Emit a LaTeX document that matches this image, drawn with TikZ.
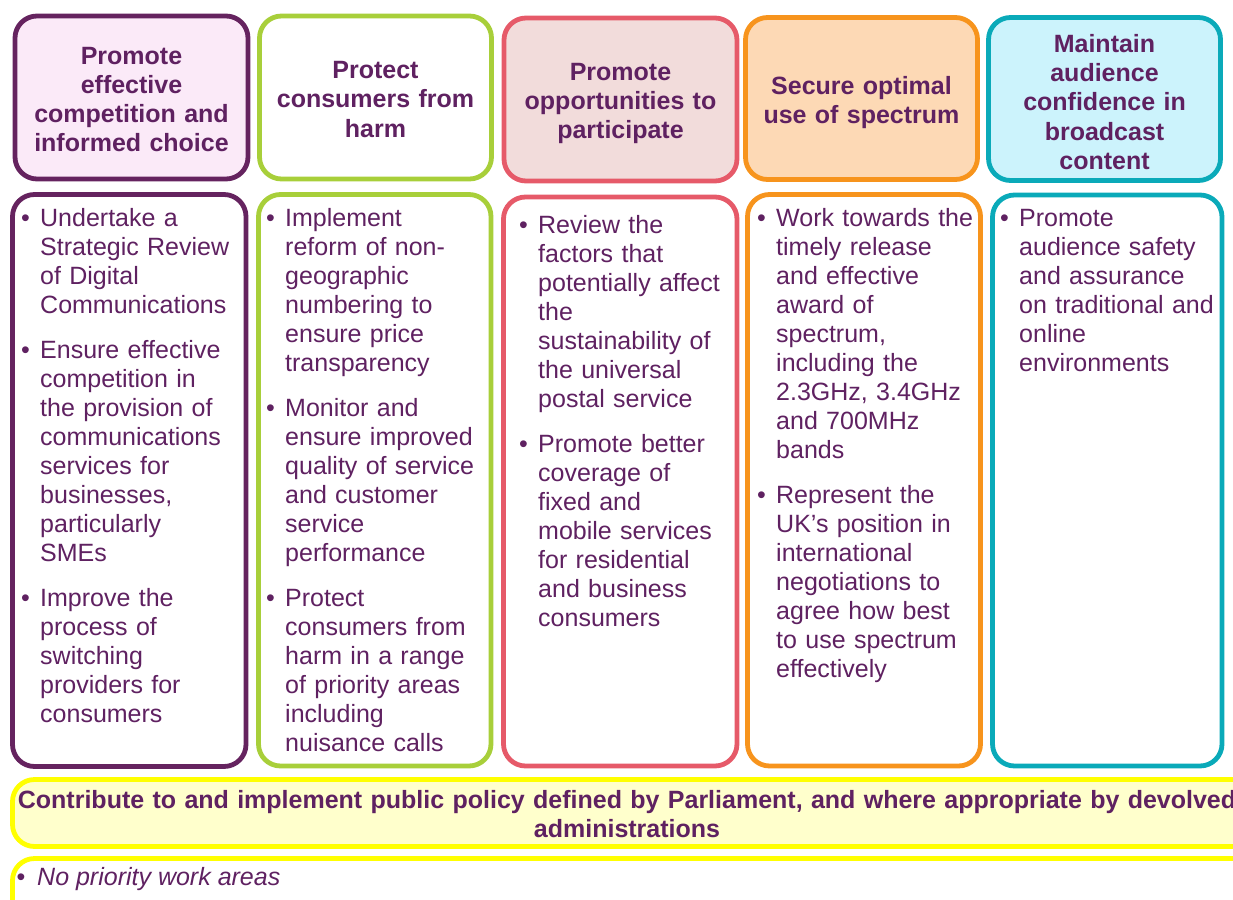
\documentclass[tikz,border=0pt]{standalone}
\usepackage{fontspec}
\setmainfont{Liberation Sans}
\definecolor{txt}{HTML}{5F2161}
\definecolor{cpurple}{HTML}{65235F}
\definecolor{cgreen}{HTML}{A8CF3A}
\definecolor{cred}{HTML}{E65A69}
\definecolor{corange}{HTML}{F7941D}
\definecolor{cteal}{HTML}{0AAAB9}
\definecolor{fpink}{HTML}{FBEAF8}
\definecolor{frose}{HTML}{F2DCDB}
\definecolor{fpeach}{HTML}{FDD9B5}
\definecolor{fcyan}{HTML}{CCF3FC}
\definecolor{cyellow}{HTML}{FFFF00}
\definecolor{fyellow}{HTML}{FFFFCC}
\newcommand{\bitem}[1]{\par\noindent\hangindent=19pt\hangafter=1\strut\makebox[19pt][l]{\textbullet}#1\strut\par\vspace{16pt}}
\tikzset{
  hdr/.style={draw, line width=4.8pt, rounded corners=22pt, inner sep=0pt, align=center, text width=226pt, font=\bfseries\fontsize{25}{29.3}\selectfont, text=txt},
  bodybox/.style={draw, fill=white, line width=4.8pt, rounded corners=22pt, inner sep=0pt},
  bodytext/.style={anchor=north west, inner sep=0pt, text width=225pt, align=left, font=\fontsize{25}{29}\selectfont, text=txt},
  ybox/.style={draw=cyellow, line width=4.8pt, rounded corners=22pt, inner sep=0pt},
}
\begin{document}
\begin{tikzpicture}[x=1pt,y=-1pt]
\useasboundingbox (0,0) rectangle (1233,899);
\parskip=0pt
% header boxes
\node[hdr, draw=cpurple, fill=fpink, minimum width=233pt, minimum height=163pt] (h1) at (131.5,97.5) {};
\node[hdr, draw=cgreen, fill=white, minimum width=232pt, minimum height=163pt] (h2) at (375.5,97.5) {};
\node[hdr, draw=cred, fill=frose, minimum width=233pt, minimum height=163pt] (h3) at (620.5,99.5) {};
\node[hdr, draw=corange, fill=fpeach, minimum width=232pt, minimum height=162pt] (h4) at (861.5,98.5) {};
\node[hdr, draw=cteal, fill=fcyan, minimum width=232pt, minimum height=163pt] (h5) at (1104.5,99) {};
\node[hdr, draw=none] (l1) at (131.5,99.5) {Promote\\effective\\competition and\\informed choice};
\node[hdr, draw=none] (l2) at (375.5,99.5) {Protect\\consumers from\\harm};
\node[hdr, draw=none] (l3) at (620.5,103.5) {Promote\\opportunities to\\participate};
\node[hdr, draw=none] (l4) at (861.5,102.5) {Secure optimal\\use of spectrum};
\node[hdr, draw=none] (l5) at (1104.5,102) {Maintain\\audience\\confidence in\\broadcast\\content};
% body boxes
\node[bodybox, draw=cpurple, minimum width=233.5pt, minimum height=572pt] (b1) at (129.25,480.5) {};
\node[bodybox, draw=cgreen, minimum width=232.5pt, minimum height=571.5pt] (b2) at (374.75,480.25) {};
\node[bodybox, draw=cred, minimum width=233.5pt, minimum height=569pt] (b3) at (620.25,481.5) {};
\node[bodybox, draw=corange, minimum width=233pt, minimum height=571.5pt] (b4) at (864,480.25) {};
\node[bodybox, draw=cteal, minimum width=229.5pt, minimum height=571pt] (b5) at (1107.25,480.5) {};
% body texts
\node[bodytext] (t1) at (21,197.7) {%
\bitem{Undertake a\newline Strategic Review\newline of Digital\newline Communications}%
\bitem{Ensure effective\newline competition in\newline the provision of\newline communications\newline services for\newline businesses,\newline particularly\newline SMEs}%
\bitem{Improve the\newline process of\newline switching\newline providers for\newline consumers}};
\node[bodytext] (t2) at (266,197.7) {%
\bitem{Implement\newline reform of non-\newline geographic\newline numbering to\newline ensure price\newline transparency}%
\bitem{Monitor and\newline ensure improved\newline quality of service\newline and customer\newline service\newline performance}%
\bitem{Protect\newline consumers from\newline harm in a range\newline of priority areas\newline including\newline nuisance calls}};
\node[bodytext] (t3) at (519,204.5) {%
\bitem{Review the\newline factors that\newline potentially affect\newline the\newline sustainability of\newline the universal\newline postal service}%
\bitem{Promote better\newline coverage of\newline fixed and\newline mobile services\newline for residential\newline and business\newline consumers}};
\node[bodytext] (t4) at (757,197.7) {%
\bitem{Work towards the\newline timely release\newline and effective\newline award of\newline spectrum,\newline including the\newline 2.3GHz, 3.4GHz\newline and 700MHz\newline bands}%
\bitem{Represent the\newline UK’s position in\newline international\newline negotiations to\newline agree how best\newline to use spectrum\newline effectively}};
\node[bodytext] (t5) at (1000,197.7) {%
\bitem{Promote\newline audience safety\newline and assurance\newline on traditional and\newline online\newline environments}};
% bottom boxes
\node[ybox, fill=fyellow, minimum width=1247.5pt, minimum height=67pt] (y1) at (636.25,813) {};
\node[ybox, fill=white, minimum width=1247.5pt, minimum height=81.5pt] (y2) at (636.25,899.25) {};
\node[anchor=north, inner sep=0pt, align=center, text width=1240pt, font=\bfseries\fontsize{25}{29}\selectfont, text=txt] (pt) at (627,787.5) {\strut Contribute to and implement public policy defined by Parliament, and where appropriate by devolved\\\strut administrations};
\node[anchor=north west, inner sep=0pt, font=\fontsize{25}{29}\selectfont, text=txt] (np) at (16.3,864.5) {\strut\makebox[20.7pt][l]{\textbullet}\textit{No priority work areas}};
\end{tikzpicture}
\end{document}
